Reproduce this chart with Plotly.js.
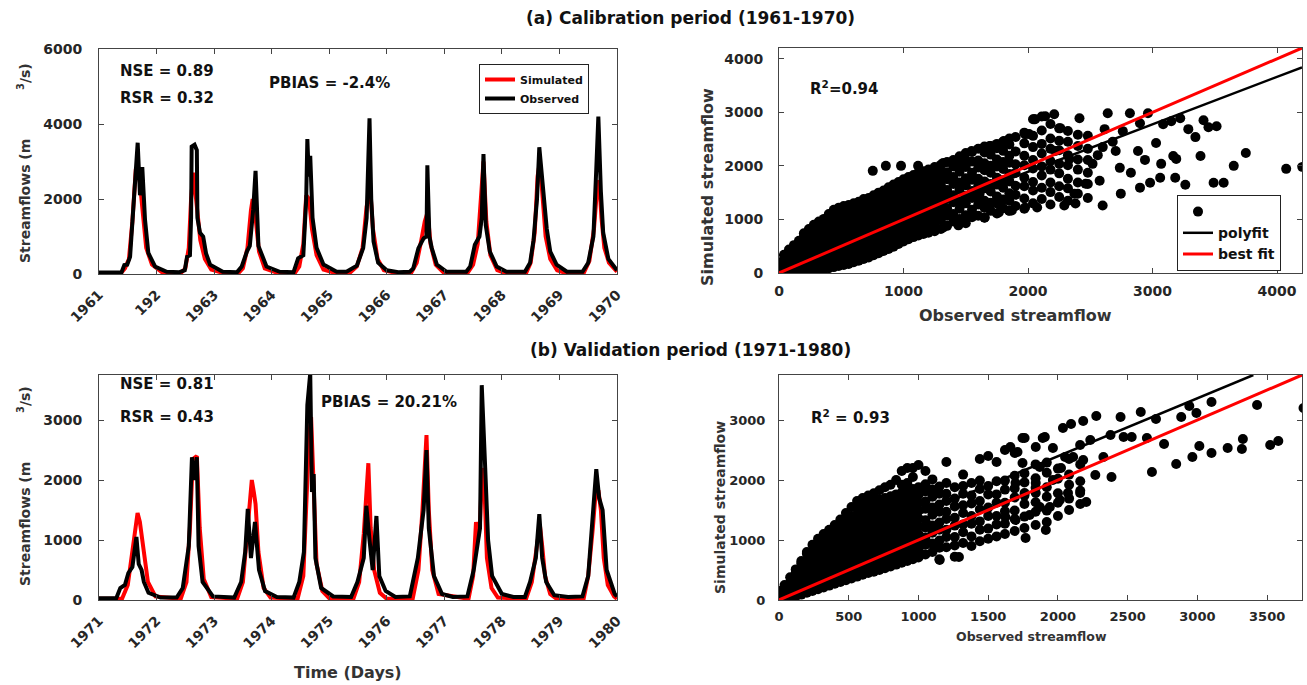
<!DOCTYPE html>
<html><head><meta charset="utf-8">
<script src="https://cdn.plot.ly/plotly-3.0.1.min.js"></script>
<style>body{margin:0;background:#fff}#c{width:1307px;height:685px}</style>
</head><body><div id="c"></div>
<script>
// ---------- (a) calibration time series (decimal years, m3/s) ----------
const calObsDate = [1961.00,1961.20,1961.39,1961.44,1961.49,1961.54,1961.596,1961.638,1961.672,1961.712,1961.752,1961.80,1961.857,1961.973,1962.176,
 1962.40,1962.49,1962.53,1962.58,1962.60,1962.61,1962.66,1962.70,1962.71,1962.755,1962.81,1962.86,1962.93,1963.15,
 1963.40,1963.48,1963.57,1963.62,1963.68,1963.72,1963.77,1963.83,1963.91,1964.14,
 1964.38,1964.46,1964.55,1964.60,1964.62,1964.645,1964.67,1964.71,1964.78,1964.90,1965.13,
 1965.30,1965.36,1965.48,1965.59,1965.65,1965.70,1965.73,1965.77,1965.85,1966.00,1966.20,
 1966.40,1966.46,1966.55,1966.64,1966.69,1966.705,1966.74,1966.78,1966.87,1967.04,
 1967.38,1967.45,1967.53,1967.61,1967.65,1967.68,1967.72,1967.79,1967.91,1968.08,
 1968.40,1968.49,1968.55,1968.61,1968.65,1968.69,1968.73,1968.78,1968.84,1968.95,1969.13,
 1969.40,1969.50,1969.59,1969.64,1969.676,1969.72,1969.76,1969.85,1970.00];
const calObsFlow = [40,30,40,240,250,460,1700,2770,3500,2100,2850,1440,560,200,60,
 50,100,460,500,1500,3400,3450,3300,1500,1100,1000,550,250,60,
 50,200,600,750,1730,2750,750,500,200,60,
 50,420,500,2000,3600,2600,3150,1500,700,250,60,
 60,120,220,690,1500,4150,2000,870,300,100,50,
 60,150,690,950,1000,2900,1000,700,250,60,
 60,200,780,1000,1500,3200,1300,600,200,60,
 60,300,900,2000,3380,2700,2300,1200,600,250,60,
 60,300,1000,2800,4200,2200,1100,400,100];
const calSimDate = [1961.00,1961.38,1961.45,1961.52,1961.58,1961.64,1961.70,1961.76,1961.82,1961.92,1962.10,
 1962.42,1962.50,1962.56,1962.60,1962.64,1962.70,1962.76,1962.84,1962.95,1963.15,
 1963.42,1963.50,1963.58,1963.64,1963.67,1963.72,1963.78,1963.88,1964.10,
 1964.40,1964.48,1964.55,1964.60,1964.65,1964.70,1964.78,1964.90,1965.10,
 1965.35,1965.48,1965.58,1965.65,1965.71,1965.76,1965.84,1965.95,1966.15,
 1966.42,1966.52,1966.60,1966.66,1966.71,1966.76,1966.85,1966.98,
 1967.40,1967.50,1967.58,1967.64,1967.68,1967.73,1967.80,1967.92,1968.05,
 1968.42,1968.50,1968.57,1968.62,1968.66,1968.70,1968.76,1968.84,1968.96,1969.10,
 1969.42,1969.52,1969.60,1969.65,1969.69,1969.73,1969.78,1969.86,1970.00];
const calSimFlow = [20,20,150,400,1400,2800,2600,1500,700,250,40,
 20,150,700,2000,2700,1800,900,400,120,30,
 20,150,700,1700,2000,1500,600,150,30,
 20,200,800,2100,2000,1200,500,120,30,
 20,200,700,1800,2300,1200,400,100,30,
 20,300,900,1400,1650,800,250,50,
 20,250,800,2200,3000,1400,500,100,30,
 20,300,1100,2600,3000,2300,1000,400,100,30,
 20,350,1200,2200,2500,1500,700,300,60];

// ---------- (b) validation time series ----------
const valObsDate = [1971.00,1971.30,1971.37,1971.45,1971.51,1971.58,1971.65,1971.69,1971.74,1971.78,1971.86,1972.07,
 1972.35,1972.455,1972.56,1972.615,1972.66,1972.70,1972.73,1972.80,1972.98,
 1973.35,1973.47,1973.54,1973.585,1973.64,1973.71,1973.78,1973.885,1974.09,
 1974.38,1974.48,1974.56,1974.62,1974.67,1974.70,1974.73,1974.76,1974.86,1975.07,
 1975.38,1975.49,1975.60,1975.645,1975.70,1975.755,1975.82,1975.87,1975.98,1976.15,
 1976.40,1976.54,1976.64,1976.69,1976.73,1976.82,1976.96,1977.15,
 1977.40,1977.51,1977.62,1977.65,1977.71,1977.76,1977.83,1978.00,1978.20,
 1978.40,1978.49,1978.59,1978.65,1978.70,1978.77,1978.91,1979.15,
 1979.40,1979.50,1979.54,1979.61,1979.64,1979.69,1979.75,1979.82,1979.96,1980.00];
const valObsFlow = [30,30,200,250,450,550,1050,600,500,300,120,40,
 40,200,900,2380,2000,2380,900,300,60,
 40,300,800,1520,700,1300,500,150,50,
 40,300,800,3250,3780,1800,2100,700,200,60,
 50,300,700,1570,1000,500,1400,400,150,50,
 60,700,1500,2500,1200,400,100,50,
 60,500,1200,3580,2200,1000,400,100,50,
 50,300,700,1430,700,300,80,50,
 60,400,1000,1800,2180,1700,1500,500,100,60];
const valSimDate = [1971.00,1971.40,1971.50,1971.58,1971.67,1971.71,1971.78,1971.85,1971.98,
 1972.42,1972.52,1972.58,1972.63,1972.70,1972.75,1972.82,1972.95,
 1973.40,1973.50,1973.58,1973.655,1973.69,1973.72,1973.77,1973.86,1973.98,
 1974.45,1974.55,1974.60,1974.65,1974.685,1974.73,1974.78,1974.88,1975.00,
 1975.42,1975.52,1975.60,1975.645,1975.68,1975.72,1975.78,1975.88,1976.00,
 1976.45,1976.55,1976.62,1976.67,1976.69,1976.73,1976.79,1976.90,
 1977.42,1977.50,1977.55,1977.58,1977.62,1977.66,1977.70,1977.74,1977.82,1977.93,
 1978.42,1978.52,1978.60,1978.66,1978.70,1978.75,1978.84,1978.95,
 1979.42,1979.50,1979.58,1979.63,1979.68,1979.72,1979.77,1979.84,1979.95,1980.00];
const valSimFlow = [20,20,250,800,1450,1300,800,300,60,
 20,300,1200,2350,2400,1200,350,50,
 20,300,1200,2000,1800,1600,800,200,40,
 20,400,1500,2700,3050,1800,600,150,30,
 20,300,1100,1700,2280,1200,500,120,20,
 20,500,1500,2600,2750,1500,500,100,
 20,400,1300,1000,1300,2200,1800,700,200,40,
 20,300,900,1250,900,400,100,20,
 20,400,1200,1800,1800,1500,700,250,60,20];

// ---------- (a) scatter: observed value columns with their simulated values ----------
const calColObs = [0,40,80,120,160,200,240,280,320,360,400,440,480,520,560,600,640,680,720,760,800,840,880,920,960,1000,
 1040,1080,1120,1160,1200,1250,1300,
 1350,1400,1450,1500,1550,1600,1650,1700,1750,1800,1850,
 1900,1970,2040,2110,2180,2250,2320,2400,2480];
const calColSim = [[10,100,190],[0,130,260,340],[10,110,230,350,440],[20,150,280,410,520],[20,120,250,380,510,600],
 [30,160,290,420,550,680,740],[40,130,260,390,520,650,780,820],[50,170,300,430,560,690,820,900],
 [60,140,270,400,530,660,790,920,960],[70,190,320,450,580,710,840,970,1010],[90,160,290,420,550,680,810,940,1070,1100],
 [110,220,350,480,610,740,870,1000,1130,1180],[130,200,330,460,590,720,850,980,1110,1220],
 [150,260,390,520,650,780,910,1040,1170,1250],[170,240,370,500,630,760,890,1020,1150,1270],
 [200,300,430,560,690,820,950,1080,1210,1300],[230,290,420,550,680,810,940,1070,1200,1330],
 [260,350,480,610,740,870,1000,1130,1260,1380],[290,340,470,600,730,860,990,1120,1250,1400],
 [330,400,530,660,790,920,1050,1180,1310,1450],[370,450,580,710,840,970,1100,1230,1360,1500],
 [410,500,630,760,890,1020,1150,1280,1410,1540],[450,550,680,810,940,1070,1200,1330,1460,1600],
 [490,600,730,860,990,1120,1250,1380,1510,1650],[540,650,780,910,1040,1170,1300,1430,1560,1700],
 [590,700,830,960,1090,1220,1350,1480,1610,1750],[630,750,880,1010,1140,1270,1400,1530,1660,1790],
 [670,800,930,1060,1190,1320,1450,1580,1710,1830],[700,830,960,1090,1220,1350,1480,1610,1740,1870],
 [730,860,990,1120,1250,1380,1510,1640,1770,1900],[750,900,1030,1160,1290,1420,1550,1680,1810,1930],
 [780,940,1070,1200,1330,1460,1590,1720,1850,1980],[820,990,1120,1250,1380,1510,1640,1770,1900,2020],
 [880,1070,1210,1420,1550,1750,1880,2070],[960,1100,1320,1450,1660,1790,1990,2110],
 [1010,1200,1330,1560,1690,1890,2020,2180],[930,1080,1300,1440,1640,1770,1980,2110,2240],
 [1040,1180,1400,1530,1740,1870,2080,2260],[1070,1280,1420,1630,1760,1970,2100,2320],
 [1030,1220,1350,1580,1710,1920,2050,2250,2360],[1160,1310,1520,1660,1870,2000,2210,2370],
 [1110,1300,1430,1650,1780,1990,2120,2330,2410],[1210,1370,1590,1730,1940,2070,2280,2450],
 [1160,1350,1490,1710,1850,2060,2190,2400,2510],
 [1250,1460,1630,1870,2030,2270,2540],[1200,1390,1620,1780,2010,2190,2420,2620],
 [1300,1540,1700,1950,2110,2350,2560,2870],[1380,1590,1820,1990,2230,2410,2660,2920],
 [1280,1510,1690,1930,2090,2320,2510,2780],[1420,1620,1860,2040,2290,2470,2700],
 [1350,1580,1760,2010,2200,2450,2650],[1480,1690,1930,2120,2370,2580],[1400,1660,1870,2110,2320,2560]];
// (a) scattered individual points
const calPtObs = [753,858,980,1117,1320,1465,1547,1692,1805,1976,2049,1320,1441,1652,1765,1870,1976,2073,1611,
 4073,4202,3749,3652,3490,3571,3385,3263,3182,3190,3061,2980,2899,3514,3449,3409,3344,3287,3222,3150,3085,3028,
 2963,2899,2818,2883,2939,3069,3166,2761,2704,2737,2826,2640,2615,2599,2745,2575,2518,2462,2381,2291,2372,2413,2259,
 2210,2138,2057,2008,2219,2332,1846,2600,2680,2560];
const calPtSim = [1907,2000,2000,2000,2055,2166,2277,2370,2463,2592,2870,852,889,1037,1130,1167,1222,1222,1481,
 1944,1981,2240,2000,1685,1685,2185,1648,1777,2130,1777,1685,1593,2740,2722,2851,2537,2685,2889,2833,2778,2426,
 2981,2796,2981,2278,2111,2037,2185,2648,2278,1963,1870,2981,2685,1259,1481,1722,2037,1667,1296,1259,1481,2889,2704,
 2963,2926,2870,2593,2278,2130,1167,2350,2450,2200];

// ---------- (b) scatter ----------
const valColObs = [0,40,80,120,160,200,240,280,320,360,400,440,480,520,560,600,640,680,720,760,800,840,880,920,960,1000,
 1050,1100,1150,1200,1260,1320,1380,1440,1500,1560,1620,1690,1760,1840,1920,2000,2080,2160];
const valColSim = [[10,80,150],[10,130,250],[30,160,290,380],[60,190,320,450,510],[90,220,350,480,610,650],
 [120,250,380,510,640,770,800],[150,280,410,540,670,800,920],[180,310,440,570,700,830,960,1020],
 [210,340,470,600,730,860,990,1100],[240,370,500,630,760,890,1020,1150,1170],[270,400,530,660,790,920,1050,1180,1250],
 [300,430,560,690,820,950,1080,1210,1340],[330,460,590,720,850,980,1110,1240,1370,1450],
 [360,490,620,750,880,1010,1140,1270,1400,1550],[390,520,650,780,910,1040,1170,1300,1430,1560,1650],
 [420,550,680,810,940,1070,1200,1330,1460,1590,1700],[450,580,710,840,970,1100,1230,1360,1490,1620,1740],
 [470,600,730,860,990,1120,1250,1380,1510,1640,1780],[500,630,760,890,1020,1150,1280,1410,1540,1670,1830],
 [530,660,790,920,1050,1180,1310,1440,1570,1700,1880],[560,690,820,950,1080,1210,1340,1470,1600,1730,1920],
 [590,720,850,980,1110,1240,1370,1500,1630,1760,2000],[620,750,880,1010,1140,1270,1400,1530,1660,1790,1920,2150],
 [650,780,910,1040,1170,1300,1430,1560,1690,1820,1950,2200],[680,810,940,1070,1200,1330,1460,1590,1720,1850,2050,2200],
 [710,840,970,1100,1230,1360,1490,1620,1750,1880,2250],
 [760,920,1040,1210,1330,1520,1640,1810,1930,2150],[800,940,1120,1240,1420,1540,1720,1840,2010],
 [680,870,990,1170,1290,1470,1590,1770,1890],[880,1050,1170,1350,1470,1650,1770,1950,2300],
 [720,910,1050,1240,1370,1560,1690,1880],[950,1130,1260,1450,1580,1770,1900,2090],
 [900,1060,1270,1400,1610,1740,1950],[980,1170,1310,1510,1650,1850,1990,2350],
 [1020,1190,1400,1540,1760,1900,2400],[1060,1260,1400,1620,1760,1980,2300],
 [1100,1270,1480,1620,1840,1990,2500],[1150,1350,1490,1710,1860,2070,2450],
 [1200,1390,1600,1740,1960,2110],[1250,1470,1630,1870,2030,2260],[1300,1490,1720,1880,2120,2290],
 [1400,1620,1780,2020,2190],[1500,1690,1920,2090,2350],[1600,1820,1980,2260]];
const valPtObs = [3761,3428,3580,3522,3326,3319,3217,3101,3014,2964,2848,2674,2761,2638,2703,2594,2449,2275,2181,2094,2036,
 2884,2942,2993,3101,2377,2471,2529,2232,2159,2109,2181,2326,2384,2268,2203,2159,2072,2014,1942,1870,1797,1696,1913,1768,
 1623,1746,1891,1841,1710,1964,1746,1870,2022,1964,1841,1696,2051,1761,1841,1152,1290,1659,1761,1906];
const valPtSim = [3200,3250,2650,2583,2683,2517,2533,2450,2567,2383,2267,2133,2600,2700,3017,3133,3050,3067,2983,2933,2867,
 3050,3233,3117,3300,2750,2717,2717,2667,2583,2383,2333,2383,2050,2083,1633,1783,1783,1667,1550,1550,1417,1333,1167,1033,
 1383,2700,2700,2550,2467,2533,2283,2217,2200,2000,1950,1950,2383,1783,1783,667,717,2550,2700,2717];

// fitted lines
const calFitX = [0, 4200], calFitY = [118, 3839];
const calBestX = [0, 4200], calBestY = [0, 4200];
const valFitX = [300, 3401], valFitY = [755, 3750];
const valBestX = [0, 3750], valBestY = [0, 3750];

const calTicks = [1961,1962,1963,1964,1965,1966,1967,1968,1969,1970];
const calTickText = ['1961','192','1963','1964','1965','1966','1967','1968','1969','1970'];
const valTicks = [1971,1972,1973,1974,1975,1976,1977,1978,1979,1980];
const valTickText = ['1971','1972','1973','1974','1975','1976','1977','1978','1979','1980'];

// ---------- build ----------
function flatten(colObs, colSim){
  const x=[], y=[];
  colObs.forEach((o,i)=>colSim[i].forEach(s=>{x.push(o);y.push(s);}));
  return [x,y];
}
const [cx, cy] = flatten(calColObs, calColSim);
const [vx, vy] = flatten(valColObs, valColSim);

const F = 'DejaVu Sans, Verdana, sans-serif';
const bold = (s,c)=>({family:F,size:s,color:c||'#222',weight:'bold'});
const mk = {color:'#000', size:10};

const traces = [
 {x:calSimDate,y:calSimFlow,type:'scatter',mode:'lines',line:{color:'#ff0000',width:4},name:'Simulated',xaxis:'x',yaxis:'y',legend:'legend'},
 {x:calObsDate,y:calObsFlow,type:'scatter',mode:'lines',line:{color:'#000',width:4},name:'Observed',xaxis:'x',yaxis:'y',legend:'legend'},
 {x:cx.concat(calPtObs),y:cy.concat(calPtSim),type:'scatter',mode:'markers',marker:mk,name:' ',xaxis:'x2',yaxis:'y2',legend:'legend2'},
 {x:calFitX,y:calFitY,type:'scatter',mode:'lines',line:{color:'#000',width:2.5},name:'polyfit',xaxis:'x2',yaxis:'y2',legend:'legend2'},
 {x:calBestX,y:calBestY,type:'scatter',mode:'lines',line:{color:'#ff0000',width:3},name:'best fit',xaxis:'x2',yaxis:'y2',legend:'legend2'},
 {x:valSimDate,y:valSimFlow,type:'scatter',mode:'lines',line:{color:'#ff0000',width:4},showlegend:false,xaxis:'x3',yaxis:'y3'},
 {x:valObsDate,y:valObsFlow,type:'scatter',mode:'lines',line:{color:'#000',width:4},showlegend:false,xaxis:'x3',yaxis:'y3'},
 {x:vx.concat(valPtObs),y:vy.concat(valPtSim),type:'scatter',mode:'markers',marker:mk,showlegend:false,xaxis:'x4',yaxis:'y4'},
 {x:valFitX,y:valFitY,type:'scatter',mode:'lines',line:{color:'#000',width:2.5},showlegend:false,xaxis:'x4',yaxis:'y4'},
 {x:valBestX,y:valBestY,type:'scatter',mode:'lines',line:{color:'#ff0000',width:3},showlegend:false,xaxis:'x4',yaxis:'y4'}
];

const W=1307,H=685;
const px = v=>v/W, py = v=>1-v/H;
const ax = (o)=>Object.assign({showgrid:false,zeroline:false,showline:true,linecolor:'#444',linewidth:1,mirror:'ticks',
  ticks:'inside',ticklen:5,tickcolor:'#444',tickfont:bold(14,'#262626')},o);

const ann = (text,x,y,size,extra)=>Object.assign({text:text,x:px(x),y:py(y),xref:'paper',yref:'paper',showarrow:false,
  xanchor:'center',yanchor:'middle',font:bold(size,'#111')},extra||{});
const gap = '\u00a0'.repeat(10);

const layout = {
 width:W,height:H,margin:{l:0,r:0,t:0,b:0},paper_bgcolor:'#fff',plot_bgcolor:'#fff',
 xaxis: ax({domain:[px(99),px(617)],range:[1961,1970],tickvals:calTicks,ticktext:calTickText,tickangle:-45,ticklabelstandoff:6,anchor:'y'}),
 yaxis: ax({domain:[py(274),py(49)],range:[0,6000],tickvals:[0,2000,4000,6000],ticklabelstandoff:13,anchor:'x'}),
 xaxis2: ax({domain:[px(779),px(1302)],range:[0,4200],tickvals:[0,1000,2000,3000,4000],ticklabelstandoff:5,anchor:'y2'}),
 yaxis2: ax({domain:[py(273),py(48)],range:[0,4200],tickvals:[0,1000,2000,3000,4000],ticklabelstandoff:12,anchor:'x2'}),
 xaxis3: ax({domain:[px(99),px(617)],range:[1971,1980],tickvals:valTicks,ticktext:valTickText,tickangle:-45,ticklabelstandoff:6,anchor:'y3'}),
 yaxis3: ax({domain:[py(600),py(375)],range:[0,3750],tickvals:[0,1000,2000,3000],ticklabelstandoff:13,anchor:'x3'}),
 xaxis4: ax({domain:[px(779),px(1302)],range:[0,3750],tickvals:[0,500,1000,1500,2000,2500,3000,3500],ticklabelstandoff:4,anchor:'y4',tickfont:bold(13,'#262626')}),
 yaxis4: ax({domain:[py(600),py(375)],range:[0,3750],tickvals:[0,1000,2000,3000],ticklabelstandoff:10,anchor:'x4',tickfont:bold(13,'#262626')}),
 legend:{x:px(479),y:py(64),xanchor:'left',yanchor:'top',bordercolor:'#222',borderwidth:1,bgcolor:'#fff',
   font:bold(11,'#111'),tracegroupgap:0,itemwidth:30},
 legend2:{x:px(1177),y:py(195),xanchor:'left',yanchor:'top',bordercolor:'#222',borderwidth:1,bgcolor:'#fff',
   font:bold(14,'#111'),tracegroupgap:0,itemwidth:30},
 showlegend:true,
 annotations:[
  ann('(a) Calibration period (1961-1970)',690,18,17),
  ann('(b) Validation period (1971-1980)',690,350,17),
  ann('NSE = 0.89',118,71,15,{xanchor:'left'}),
  ann('RSR = 0.32',118,98,15,{xanchor:'left'}),
  ann('PBIAS = -2.4%',267,83,15,{xanchor:'left'}),
  ann('R<sup>2</sup>=0.94',808,88,15,{xanchor:'left'}),
  ann('NSE = 0.81',118,384,15,{xanchor:'left'}),
  ann('RSR = 0.43',118,417,15,{xanchor:'left'}),
  ann('PBIAS = 20.21%',319,402,15,{xanchor:'left'}),
  ann('R<sup>2</sup> = 0.93',809,417,15,{xanchor:'left'}),
  ann('Streamflows (m'+gap+'<sup>3</sup>/s)',24,163,14,{textangle:-90,font:bold(14,'#333')}),
  ann('Streamflows (m'+gap+'<sup>3</sup>/s)',24,486,14,{textangle:-90,font:bold(14,'#333')}),
  ann('Time (Days)',348,672,16,{font:bold(16,'#333')}),
  ann('Observed streamflow',1015,316,16,{font:bold(16,'#333')}),
  ann('Simulated streamflow',708,187,16,{textangle:-90,font:bold(16,'#333')}),
  ann('Observed streamflow',1031,636,12.5,{font:bold(12.5,'#333')}),
  ann('Simulated streamflow',720,508,14,{textangle:-90,font:bold(14,'#333')})
 ]
};
Plotly.newPlot('c',traces,layout,{displayModeBar:false,staticPlot:true});
</script></body></html>
